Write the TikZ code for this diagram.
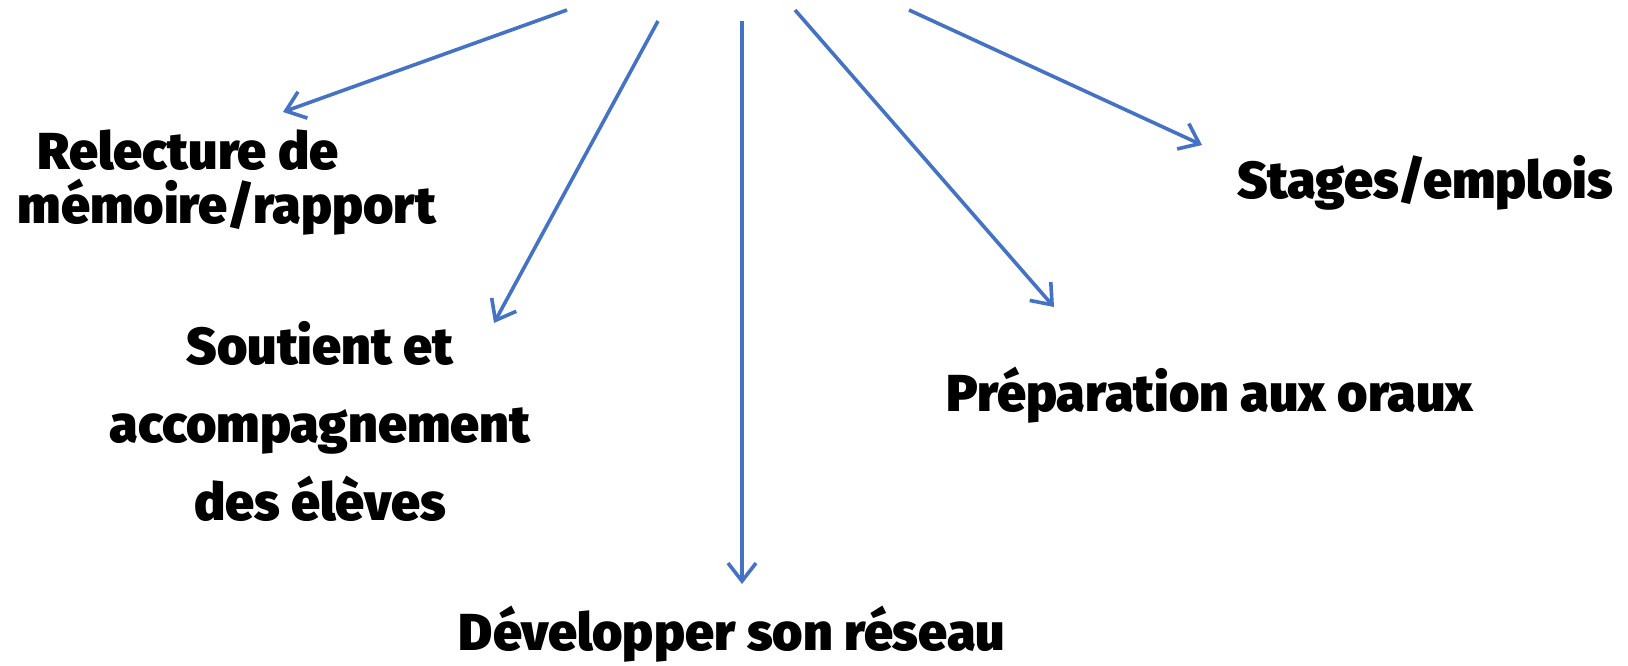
\documentclass[tikz,border=0pt]{standalone}
\usepackage{fontspec}
\setmainfont{Fira Sans Black}
\usetikzlibrary{arrows.meta}
\definecolor{arrowblue}{HTML}{4472C4}
\begin{document}
\begin{tikzpicture}
[x=0.5pt,y=-0.5pt,
 linestyle/.style={arrowblue,line width=1.8pt,-{Straight Barb[length=9pt,width=14pt,line width=1.8pt]}},%
 labelstyle/.style={text=black,align=center,font=\fontsize{26}{27}\selectfont}]
\useasboundingbox (0,0) rectangle (1628,665);
%% labels
\node[labelstyle,align=left] (relecture) at (227,183) {\hspace*{10pt}Relecture de\\mémoire/rapport};
\node[labelstyle,font=\fontsize{26}{39}\selectfont] (soutien) at (320,421) {Soutient et\\accompagnement\\des élèves};
\node[labelstyle,inner sep=1pt] (reseau) at (732,634) {Développer son réseau};
\node[labelstyle] (oraux) at (1210,395) {Préparation aux oraux};
\node[labelstyle] (stages) at (1425,183) {Stages/emplois};
%% start and end points of the arrows
\coordinate (s1) at (567,10);  \coordinate (t1) at (283,112);
\coordinate (s2) at (658,21);  \coordinate (t2) at (494,323);
\coordinate (s3) at (742,21);  \coordinate (t3) at (742,584);
\coordinate (s4) at (795,10);  \coordinate (t4) at (1054,307);
\coordinate (s5) at (909,10);  \coordinate (t5) at (1202,145);
%% arrows
\draw[linestyle] (s1) -- (t1);
\draw[linestyle] (s2) -- (t2);
\draw[linestyle] (s3) -- (t3);
\draw[linestyle] (s4) -- (t4);
\draw[linestyle] (s5) -- (t5);
\end{tikzpicture}
\end{document}
